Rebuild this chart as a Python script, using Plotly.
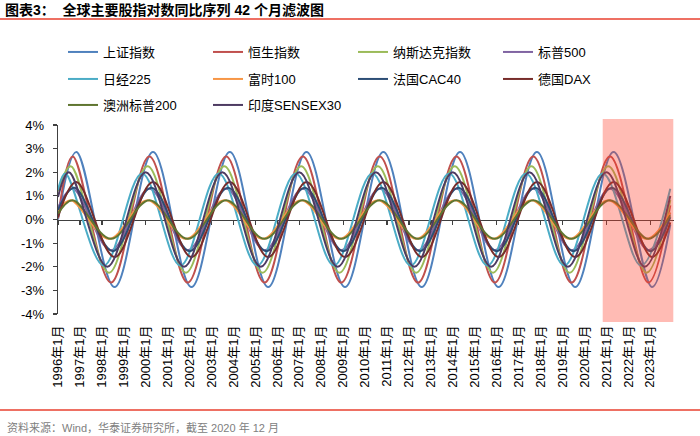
import plotly.graph_objects as go

# ---------------- data ----------------
years = list(range(1996, 2024))
tick_vals = [f"{y}-01-01" for y in years]
tick_text = [f"{y}年1月" for y in years]
y_tick_vals = [4, 3, 2, 1, 0, -1, -2, -3, -4]
y_tick_text = ["4%", "3%", "2%", "1%", "0%", "-1%", "-2%", "-3%", "-4%"]

# key points (start, alternating peaks/troughs, end) of each filtered series, in %
sh_x = ["1996-01", "1996-11", "1998-08", "2000-05", "2002-02", "2003-11", "2005-08", "2007-05", "2009-02",
        "2010-11", "2012-08", "2014-05", "2016-02", "2017-11", "2019-08", "2021-05", "2023-02", "2023-12"]
sh_y = [0.0, 2.86, -2.86, 2.86, -2.86, 2.86, -2.86, 2.86, -2.86, 2.86, -2.86, 2.86, -2.86, 2.86, -2.86, 2.86, -2.86, -0.21]

hs_x = ["1996-01", "1996-09", "1998-06", "2000-03", "2001-12", "2003-09", "2005-06", "2007-03", "2008-12",
        "2010-09", "2012-06", "2014-03", "2015-12", "2017-09", "2019-06", "2021-03", "2022-12", "2023-12"]
hs_y = [0.05, 2.67, -2.67, 2.67, -2.67, 2.67, -2.67, 2.67, -2.67, 2.67, -2.67, 2.67, -2.67, 2.67, -2.67, 2.67, -2.67, 0.60]

nq_x = ["1996-01", "1996-08", "1998-05", "2000-02", "2001-11", "2003-08", "2005-05", "2007-02", "2008-11",
        "2010-08", "2012-05", "2014-02", "2015-11", "2017-08", "2019-05", "2021-02", "2022-11", "2023-12"]
nq_y = [1.20, 2.25, -2.25, 2.25, -2.25, 2.25, -2.25, 2.25, -2.25, 2.25, -2.25, 2.25, -2.25, 2.25, -2.25, 2.25, -2.25, 0.82]

sp_x = ["1996-01", "1996-09", "1998-06", "2000-03", "2001-12", "2003-09", "2005-06", "2007-03", "2008-12",
        "2010-09", "2012-06", "2014-03", "2015-12", "2017-09", "2019-06", "2021-03", "2022-12", "2023-12"]
sp_y = [0.50, 1.30, -1.30, 1.30, -1.30, 1.30, -1.30, 1.30, -1.30, 1.30, -1.30, 1.30, -1.30, 1.30, -1.30, 1.30, -1.30, 0.29]

nk_x = ["1996-01", "1996-05", "1998-02", "1999-11", "2001-08", "2003-05", "2005-02", "2006-11", "2008-08",
        "2010-05", "2012-02", "2013-11", "2015-08", "2017-05", "2019-02", "2020-11", "2022-08", "2023-12"]
nk_y = [1.25, 1.95, -1.95, 1.95, -1.95, 1.95, -1.95, 1.95, -1.95, 1.95, -1.95, 1.95, -1.95, 1.95, -1.95, 1.95, -1.95, 1.30]

ft_x = ["1996-01", "1996-08", "1998-05", "2000-02", "2001-11", "2003-08", "2005-05", "2007-02", "2008-11",
        "2010-08", "2012-05", "2014-02", "2015-11", "2017-08", "2019-05", "2021-02", "2022-11", "2023-12"]
ft_y = [0.35, 0.82, -0.82, 0.82, -0.82, 0.82, -0.82, 0.82, -0.82, 0.82, -0.82, 0.82, -0.82, 0.82, -0.82, 0.82, -0.82, 0.30]

cac_x = ["1996-01", "1996-10", "1998-07", "2000-04", "2002-01", "2003-10", "2005-07", "2007-04", "2009-01",
         "2010-10", "2012-07", "2014-04", "2016-01", "2017-10", "2019-07", "2021-04", "2023-01", "2023-12"]
cac_y = [0.40, 1.34, -1.34, 1.34, -1.34, 1.34, -1.34, 1.34, -1.34, 1.34, -1.34, 1.34, -1.34, 1.34, -1.34, 1.34, -1.34, 0.10]

dax_x = ["1996-01", "1996-11", "1998-08", "2000-05", "2002-02", "2003-11", "2005-08", "2007-05", "2009-02",
         "2010-11", "2012-08", "2014-05", "2016-02", "2017-11", "2019-08", "2021-05", "2023-02", "2023-12"]
dax_y = [0.10, 1.59, -1.59, 1.59, -1.59, 1.59, -1.59, 1.59, -1.59, 1.59, -1.59, 1.59, -1.59, 1.59, -1.59, 1.59, -1.59, -0.12]

asx_x = ["1996-01", "1996-09", "1998-06", "2000-03", "2001-12", "2003-09", "2005-06", "2007-03", "2008-12",
         "2010-09", "2012-06", "2014-03", "2015-12", "2017-09", "2019-06", "2021-03", "2022-12", "2023-12"]
asx_y = [0.25, 0.82, -0.82, 0.82, -0.82, 0.82, -0.82, 0.82, -0.82, 0.82, -0.82, 0.82, -0.82, 0.82, -0.82, 0.82, -0.82, 0.18]

sx_x = ["1996-01", "1996-07", "1998-04", "2000-01", "2001-10", "2003-07", "2005-04", "2007-01", "2008-10",
        "2010-07", "2012-04", "2014-01", "2015-10", "2017-07", "2019-04", "2021-01", "2022-10", "2023-12"]
sx_y = [0.95, 2.00, -2.00, 2.00, -2.00, 2.00, -2.00, 2.00, -2.00, 2.00, -2.00, 2.00, -2.00, 2.00, -2.00, 2.00, -2.00, 1.00]

series = [
    ("上证指数", sh_x, sh_y, "#4F81BD", "legend"),
    ("恒生指数", hs_x, hs_y, "#C0504D", "legend"),
    ("纳斯达克指数", nq_x, nq_y, "#9BBB59", "legend"),
    ("标普500", sp_x, sp_y, "#8064A2", "legend"),
    ("日经225", nk_x, nk_y, "#4BACC6", "legend2"),
    ("富时100", ft_x, ft_y, "#F79646", "legend2"),
    ("法国CAC40", cac_x, cac_y, "#2C4D75", "legend2"),
    ("德国DAX", dax_x, dax_y, "#772C2A", "legend2"),
    ("澳洲标普200", asx_x, asx_y, "#5F7530", "legend3"),
    ("印度SENSEX30", sx_x, sx_y, "#4D3B62", "legend3"),
]

shade_start = "2020-11-01"
shade_end = "2024-01-20"

FONT = "Liberation Sans, Arial, Noto Sans CJK SC, sans-serif"

fig = go.Figure()
for name, xs, ys, color, lg in series:
    fig.add_trace(go.Scatter(
        x=xs, y=ys, name=name, mode="lines",
        line=dict(color=color, width=2, shape="spline", smoothing=1.0),
        legend=lg, hoverinfo="skip",
    ))

# invisible trace to carry the zero-line axis
fig.add_trace(go.Scatter(x=[tick_vals[0], tick_vals[-1]], y=[0, 0], xaxis="x2", mode="lines",
                         line=dict(width=0), showlegend=False, hoverinfo="skip"))

x_range = ["1996-01-01", "2024-02-01"]

legend_common = dict(orientation="h", xref="container", yref="container", xanchor="left",
                     yanchor="middle", font=dict(family=FONT, size=13, color="#000000"),
                     bgcolor="rgba(0,0,0,0)", entrywidth=100, entrywidthmode="pixels",
                     itemclick=False, itemdoubleclick=False)

fig.update_layout(
    width=700, height=436,
    margin=dict(l=58, r=26, t=125, b=122, autoexpand=False),
    paper_bgcolor="white", plot_bgcolor="white",
    font=dict(family=FONT, size=13, color="#000000"),
    hovermode=False,
    title=dict(text="<b>图表3：  全球主要股指对数同比序列 42 个月滤波图</b>",
               x=5 / 700, xanchor="left", xref="container",
               y=1 - 10 / 436, yanchor="middle", yref="container",
               font=dict(family=FONT, size=14, color="#000000")),
    legend=dict(x=63 / 700, y=1 - 52 / 436, **legend_common),
    legend2=dict(x=63 / 700, y=1 - 79 / 436, **legend_common),
    legend3=dict(x=63 / 700, y=1 - 105 / 436, **legend_common),
    xaxis=dict(type="date", range=x_range, tickvals=tick_vals, ticktext=tick_text,
               tickangle=-90, showline=False, ticks="", showgrid=False, zeroline=False,
               automargin=False,
               ticklabelstandoff=8, tickfont=dict(family=FONT, size=13, color="#000000")),
    xaxis2=dict(type="date", range=x_range, overlaying="x", anchor="free", position=0.5,
                side="bottom", showline=True, linecolor="#404040", linewidth=1.3,
                ticks="outside", ticklen=4, tickwidth=1.2, tickcolor="#404040",
                tickvals=tick_vals, showticklabels=False, showgrid=False, zeroline=False,
                automargin=False, layer="below traces"),
    yaxis=dict(range=[-4, 4], tickvals=y_tick_vals, ticktext=y_tick_text, showline=True,
               linecolor="#404040", linewidth=1.3, ticks="outside", ticklen=4, tickwidth=1.2,
               tickcolor="#404040", showgrid=False, zeroline=False, ticklabelstandoff=6,
               automargin=False,
               tickfont=dict(family=FONT, size=13, color="#000000")),
    showlegend=True,
)

# highlighted forecast region
fig.add_shape(type="rect", xref="x", yref="paper", x0=shade_start, x1=shade_end,
              y0=-0.042, y1=1.032, fillcolor="rgba(255,60,40,0.35)", line=dict(width=0),
              layer="above")

# red rules under title and above source
fig.add_shape(type="line", xref="paper", yref="paper", x0=-58 / 616, x1=642 / 616,
              y0=(314 - 19) / 189, y1=(314 - 19) / 189, line=dict(color="#E8402F", width=1.6))
fig.add_shape(type="line", xref="paper", yref="paper", x0=-58 / 616, x1=642 / 616,
              y0=(314 - 410) / 189, y1=(314 - 410) / 189, line=dict(color="#E8402F", width=1.6))

fig.add_annotation(text="资料来源：Wind，华泰证券研究所，截至 2020 年 12 月",
                   xref="paper", yref="paper", x=(5 - 58) / 616, y=(314 - 427) / 189,
                   xanchor="left", yanchor="middle", showarrow=False,
                   font=dict(family=FONT, size=11, color="#808080"))

fig.write_html("out.html", config={"displayModeBar": False, "staticPlot": True},
               post_script="document.body.style.margin='0px';document.body.style.overflow='hidden';")
